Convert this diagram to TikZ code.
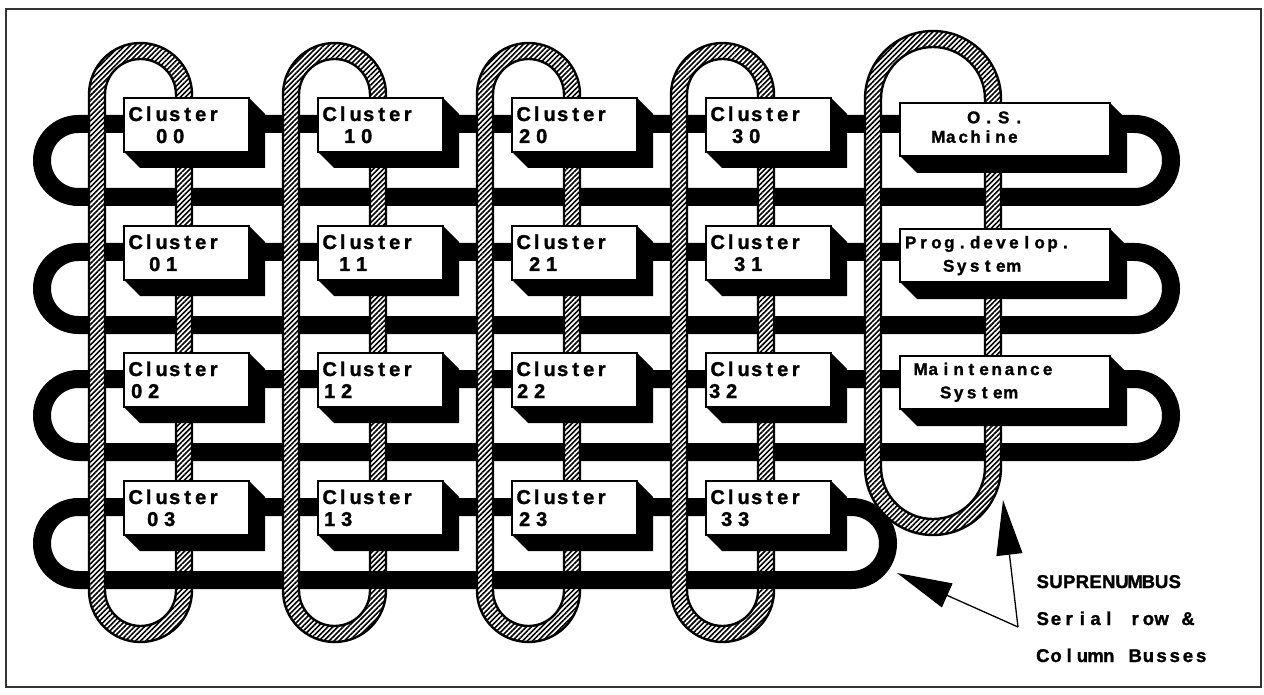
\documentclass[tikz,border=0pt]{standalone}
\usepackage{fontspec}
\setmainfont{Liberation Sans}
\newfontfamily\heavyfont{Liberation Sans Bold}[FakeBold=1.4]
\usetikzlibrary{patterns.meta,arrows.meta}
\ExplSyntaxOn
\NewDocumentCommand \mono { O{13pt} m }
  { \str_map_inline:nn {#2} { \makebox[#1][c]{##1} } }
\ExplSyntaxOff
\tikzset{
  rowbus/.style={line width=18pt, draw=black, rounded corners=36.45pt},
  ringline/.style={draw=black, line width=2.4pt},
  hatch/.style={pattern={Lines[angle=45,distance=3.6pt,line width=1.6pt]}, pattern color=black},
  frameline/.style={draw=black!80, line width=2pt},
  boxfront/.style={draw=black, line width=2pt, fill=white, inner sep=0pt, anchor=north west},
  ctext/.style={inner sep=0pt, anchor=base west, font=\heavyfont\fontsize{20}{20}\selectfont},
  stext/.style={inner sep=0pt, anchor=base west, font=\heavyfont\fontsize{17}{17}\selectfont},
  captext/.style={inner sep=0pt, anchor=base west, font=\heavyfont\fontsize{18.5}{18.5}\selectfont},
  pointer/.style={line width=1.3pt, -{Triangle[length=55pt,width=26pt]}},
}
\newcommand\hring[4]{%
  \pgfmathsetmacro\ringro{(#2-#1)/2+8}%
  \pgfmathsetmacro\ringri{(#2-#1)/2-8}%
  \path[fill=white, even odd rule, rounded corners=\ringro pt] (#1-8,#3-8) rectangle (#2+8,#4+8) [rounded corners=\ringri pt] (#1+8,#3+8) rectangle (#2-8,#4-8);
  \path[hatch, even odd rule, rounded corners=\ringro pt] (#1-8,#3-8) rectangle (#2+8,#4+8) [rounded corners=\ringri pt] (#1+8,#3+8) rectangle (#2-8,#4-8);
  \path[ringline, rounded corners=\ringro pt] (#1-8,#3-8) rectangle (#2+8,#4+8) [rounded corners=\ringri pt] (#1+8,#3+8) rectangle (#2-8,#4-8);
}
% name, x, y, w, h, depth
\newcommand\cbox[6]{%
  \fill[black] (#2,#3+#5) -- (#2+#6,#3+#5+#6) -- (#2+#4+#6,#3+#5+#6) -- (#2+#4+#6,#3+#6) -- (#2+#4,#3) -- cycle;
  \node[boxfront, minimum width=#4pt, minimum height=#5pt] (#1) at (#2,#3) {};
}
% name, x, y, number, dx
\newcommand\cluster[5]{%
  \cbox{#1}{#2}{#3}{125}{54}{17}
  \node[ctext] (#1t) at (#2+6,#3+24) {\mono[13pt]{Cluster}};
  \node[ctext] (#1n) at (#2+#5-4,#3+46) {\mono[17pt]{#4}};
}
\begin{document}
\begin{tikzpicture}[x=1pt,y=-1pt]
\useasboundingbox (0,0) rectangle (1264,695);
\fill[white] (0,0) rectangle (1264,695);
\draw[frameline] (6,9) rectangle (1261,687);
% row busses
\draw[rowbus] (42,124) rectangle (1171,197);
\draw[rowbus] (42,252) rectangle (1171,325);
\draw[rowbus] (42,379) rectangle (1171,452);
\draw[rowbus] (42,507) rectangle (888,580);
% column busses
\hring{97}{184}{51}{634}
\hring{291}{378}{51}{634}
\hring{485}{572}{51}{634}
\hring{679}{766}{51}{634}
\hring{873}{993}{39}{527}
% row 3 bottom bus passes over the right column lines
\foreach \xr in {184,378,572,766}{
  \draw[line width=18pt] (\xr-11,580) -- (\xr+11,580);
}
% clusters
\cluster{c00}{123}{97}{00}{34}
\cluster{c10}{317}{97}{10}{28}
\cluster{c20}{511}{97}{20}{9}
\cluster{c30}{705}{97}{30}{28}
\cluster{c01}{123}{225}{01}{27}
\cluster{c11}{317}{225}{11}{23}
\cluster{c21}{511}{225}{21}{19}
\cluster{c31}{705}{225}{31}{30}
\cluster{c02}{123}{352}{02}{9}
\cluster{c12}{317}{352}{12}{8}
\cluster{c22}{511}{352}{22}{7}
\cluster{c32}{705}{352}{32}{5}
\cluster{c03}{123}{480}{03}{25}
\cluster{c13}{317}{480}{13}{8}
\cluster{c23}{511}{480}{23}{9}
\cluster{c33}{705}{480}{33}{17}
% special machines
\cbox{osm}{899}{102}{210}{53}{18}
\node[stext] (osm1) at (966,123.3) {\mono[15pt]{O.S.}};
\node[stext] (osm2) at (932,142.7) {\mono[12.4pt]{Machine}};
\cbox{pds}{899}{228}{210}{53}{18}
\node[stext] (pds1) at (904,248.3) {\mono[12.9pt]{Prog.develop.}};
\node[stext] (pds2) at (942,271.7) {\mono[13pt]{System}};
\cbox{mts}{899}{355}{210}{53}{18}
\node[stext] (mts1) at (914,375) {\mono[12.7pt]{Maintenance}};
\node[stext] (mts2) at (939,398.3) {\mono[13pt]{System}};
% caption
\node[captext] (cap1) at (1036,588) {\mono[13.2pt]{SUPRENUMBUS}};
\node[captext] (cap2) at (1036,625) {\mono[13.2pt]{Serial row }\makebox[13.2pt][c]{\&}};
\node[captext] (cap3) at (1036,662) {\mono[13.2pt]{Column Busses}};
\coordinate (hub) at (1018,627);
\coordinate (tipcol) at (1003,500);
\coordinate (tiprow) at (897,573);
\draw[pointer] (hub) -- (tipcol);
\draw[pointer] (hub) -- (tiprow);
\end{tikzpicture}
\end{document}
